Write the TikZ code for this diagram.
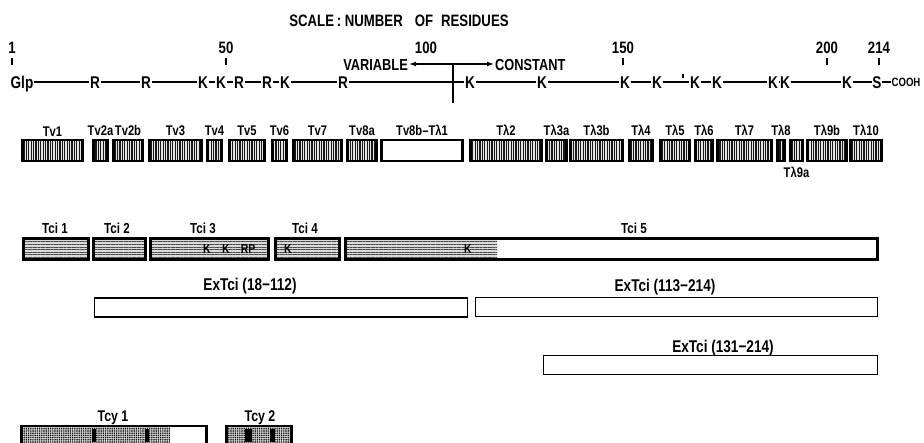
\documentclass[tikz,border=0pt]{standalone}
\usepackage{fontspec}
\setmainfont{Liberation Sans}[FakeStretch=0.8]
\usepackage{tikz}
\usetikzlibrary{arrows.meta,positioning,patterns.meta}
\tikzset{
    titulo/.style={font=\fontsize{16.5}{16.5}\selectfont\bfseries, inner sep=0pt, anchor=base},
    escala/.style={font=\fontsize{16.5}{16.5}\selectfont\bfseries, inner sep=0pt, anchor=base},
    marca/.style={line width=1.4pt},
    residuo/.style={
        font=\fontsize{17}{17}\selectfont\bfseries,
        inner sep=0.6pt,
        text height=12pt,
        text depth=0pt
    },
    regiao/.style={residuo, font=\fontsize{16}{16}\selectfont\bfseries, inner sep=1pt},
    cadeia/.style={line width=1.3pt},
    fluxo/.style={-{Latex[length=7pt,width=5pt]}, line width=1.3pt},
    rotulo/.style={font=\fontsize{14}{14}\selectfont\bfseries, inner sep=0pt},
    rotuloT/.style={font=\fontsize{14.5}{14.5}\selectfont\bfseries, inner sep=0pt, anchor=base},
    rotuloEx/.style={font=\fontsize{17}{17}\selectfont\bfseries, inner sep=0pt, anchor=base},
    letra/.style={font=\fontsize{13}{13}\selectfont\bfseries, inner sep=0pt, text=black},
    bloco/.style={
        rectangle,
        draw,
        line width=2.2pt,
        inner sep=0pt,
        minimum height=21pt
    },
    blocoV/.style={bloco, preaction={fill=gray!20},
        pattern={Lines[angle=90,distance=2.4pt,line width=1.2pt]}, pattern color=black!90},
    blocoH/.style={bloco, preaction={fill=gray!30},
        pattern={Lines[angle=0,distance=2.6pt,line width=0.9pt]}, pattern color=black!70},
    tramaH/.style={preaction={fill=gray!30},
        pattern={Lines[angle=0,distance=2.6pt,line width=0.9pt]}, pattern color=black!70},
    tramaP/.style={preaction={fill=gray!35},
        pattern={Dots[distance=2.2pt,radius=0.8pt]}, pattern color=black},
    blocoVazio/.style={bloco, fill=white},
    exbloco/.style={rectangle, draw, line width=1.1pt, fill=white, inner sep=0pt, minimum height=19pt}
}

\begin{document}
\begin{tikzpicture}[x=1pt, y=-1pt]
    \useasboundingbox (0,0) rectangle (924,442);
    \clip (0,0) rectangle (924,442);

    % escala
    \node[titulo] (titulo) at (399,26) {SCALE\,:\ NUMBER\hspace{12pt}OF\hspace{8pt}RESIDUES};
    \foreach \x/\v in {12/1, 226/50, 426/100, 623/150, 827/200, 879/214}
        \node[escala] (n\v) at (\x,53) {\v};
    \foreach \v in {1,50,150,200,214}
        \draw[marca] (n\v.south) ++(0,5) -- ++(0,7);

    % cadeia de residuos
    \foreach \x/\nm/\txt in {22/glp/Glp, 95/r1/R, 146/r2/R, 203/k1/K, 221/k2/K, 239/r3/R,
        267/r4/R, 285/k3/K, 343/r5/R, 470/k4/K, 542/k5/K, 625/k6/K, 657/k7/K, 695/k8/K,
        717/k9/K, 773/k10/K, 785/k11/K, 847/k12/K, 877/s1/S}
        \node[residuo] (\nm) at (\x,82) {\txt};
    \node[residuo, font=\fontsize{12}{12}\selectfont\bfseries, text height=9pt] (cooh) at (906,82) {COOH};
    \foreach \a/\b in {glp/r1, r1/r2, r2/k1, k1/k2, k2/r3, r3/r4, r4/k3, k3/r5, r5/k4,
        k4/k5, k5/k6, k6/k7, k7/k8, k8/k9, k9/k10, k10/k11, k11/k12, k12/s1, s1/cooh}
        \draw[cadeia] (\a) -- (\b);
    \draw[marca, line width=1.1pt] (683,74) -- (683,78);

    % variavel / constante
    \coordinate (barraTopo) at (453,63);
    \coordinate (barraBase) at (453,103);
    \coordinate (meio) at (453,64);
    \draw[line width=1.8pt] (barraTopo) -- (barraBase);
    \node[regiao, anchor=east] (variavel) at (409,64) {VARIABLE};
    \node[regiao, anchor=west] (constante) at (494,64) {CONSTANT};
    \draw[fluxo] (meio) -- (variavel);
    \draw[fluxo] (meio) -- (constante);

    % peptideos trIpticos
    \foreach \l/\r/\nm/\lab [evaluate=\l as \w using \r-\l-1, evaluate=\l as \c using (\l+\r)/2] in
        {22/83/tv1/Tv1, 93/108/tvIIa/Tv2a, 113/143/tvIIb/Tv2b, 149/202/tv3/Tv3, 207/222/tv4/Tv4,
         229/265/tv5/Tv5, 272/287/tv6/Tv6, 293/342/tv7/Tv7, 347/377/tvVIIIa/Tv8a,
         470/542/tl2/Tλ2, 546/567/tlIIIa/Tλ3a, 570/623/tlIIIb/Tλ3b, 629/653/tl4/Tλ4,
         660/690/tl5/Tλ5, 695/713/tl6/Tλ6, 717/772/tl7/Tλ7, 777/785/tl8/Tλ8,
         807/847/tlIXb/Tλ9b, 850/882/tl10/Tλ10}
    {
        \node[blocoV, minimum width=\w pt] (\nm) at (\c,150.5) {};
        \node[rotulo, above=3pt of \nm] {\lab};
    }
    \node[blocoVazio, minimum width=81pt] (tvVIIIb) at (422,150.5) {};
    \node[rotulo, above=3pt of tvVIIIb] {Tv8b–Tλ1};
    \node[blocoV, minimum width=12pt] (tlIXa) at (796.5,150.5) {};
    \node[rotulo, below=5pt of tlIXa] {Tλ9a};

    % peptideos Tci
    \foreach \l/\r/\nm/\lx/\lab [evaluate=\l as \w using \r-\l-1, evaluate=\l as \c using (\l+\r)/2] in
        {23/89/tci1/55/Tci 1, 93/146/tci2/117/Tci 2, 150/269/tci3/203/Tci 3, 275/340/tci4/305/Tci 4}
    {
        \node[blocoH, minimum width=\w pt] (\nm) at (\c,249) {};
        \node[rotuloT] at (\lx,233) {\lab};
    }
    \fill[tramaH] (345,239) rectangle (497,259);
    \node[bloco, minimum width=532pt] (tci5) at (611.5,249) {};
    \node[rotuloT] at (634,233) {Tci 5};
    \node[letra] (kA) at (207,249) {K};
    \node[letra] (kB) at (226,249) {K};
    \node[letra] (rp) at (248,249) {RP};
    \node[letra] (kC) at (288,249) {K};
    \node[letra] (kD) at (468,249) {K};

    % fragmentos ExTci
    \node[exbloco, minimum width=373pt] (exA) at (281,307.5) {};
    \node[rotuloEx] at (250,290) {ExTci (18−112)};
    \node[exbloco, minimum width=402pt] (exB) at (676.5,307) {};
    \node[rotuloEx] at (665,291) {ExTci (113−214)};
    \node[exbloco, minimum width=334pt] (exC) at (710.5,365) {};
    \node[rotuloEx] at (723,352) {ExTci (131−214)};

    % peptideos Tcy
    \fill[tramaP] (22,426) rectangle (170,448);
    \node[bloco, minimum width=185pt, minimum height=22pt] (tcy1) at (114,437) {};
    \node[rotuloT, font=\fontsize{15.5}{15.5}\selectfont\bfseries] at (113,421) {Tcy 1};
    \node[bloco, tramaP, minimum width=65pt, minimum height=22pt] (tcy2) at (259,437) {};
    \node[rotuloT, font=\fontsize{15.5}{15.5}\selectfont\bfseries] at (260,421) {Tcy 2};
    \fill (92,429) rectangle (96,442);
    \fill (145,429) rectangle (149,442);
    \fill (245,429) rectangle (252,442);
    \fill (270,429) rectangle (275,442);
\end{tikzpicture}
\end{document}
